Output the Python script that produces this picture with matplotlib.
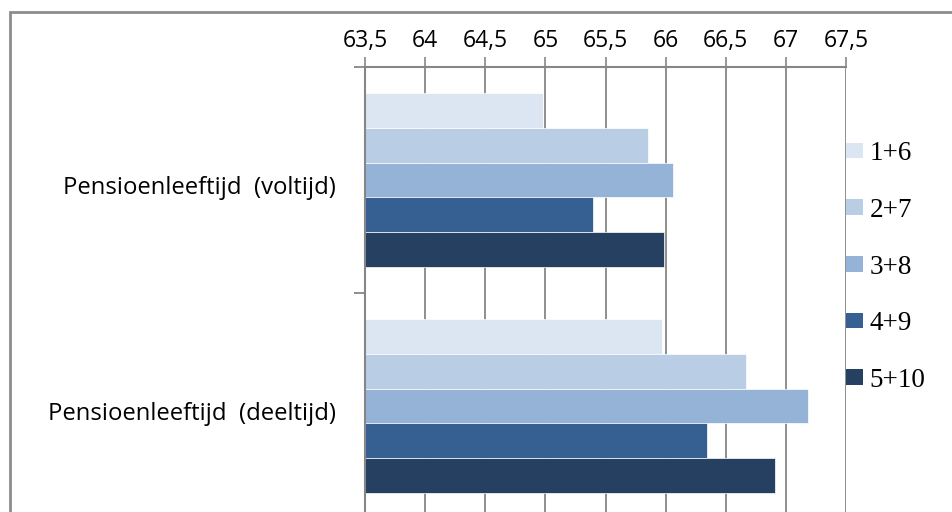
# horizontal bar chart of the retirement age per group, full-time vs part-time.
import matplotlib.pyplot as plt
import numpy as np
from matplotlib.patches import Patch, Rectangle
from matplotlib.ticker import FuncFormatter
from matplotlib.transforms import ScaledTranslation


categories: list = ['Pensioenleeftijd  (voltijd)', 'Pensioenleeftijd  (deeltijd)']
groups: list = ['1+6', '2+7', '3+8', '4+9', '5+10']
colors: list = ['#DCE6F2', '#B9CDE5', '#95B3D7', '#376092', '#254061']

# one row per group: [voltijd, deeltijd]
values: np.ndarray = np.array([
    [64.98, 65.97],
    [65.85, 66.67],
    [66.06, 67.18],
    [65.40, 66.34],
    [65.99, 66.91],
])

x_ticks: np.ndarray = np.arange(63.5, 67.51, 0.5)
x_min: float = 63.5
x_max: float = 67.5


def comma_label(value, position):
    text: str = f'{value:g}'
    return text.replace('.', ',')


def draw_chart():
    width_px: int = 952
    height_px: int = 512
    fig = plt.figure(figsize = (width_px / 100, height_px / 100), dpi = 100)

    # plot area runs a bit past the bottom edge of the figure
    left: float = 365 / width_px
    right: float = 846 / width_px
    top: float = 1 - 67 / height_px
    bottom: float = -(519 - height_px) / height_px
    ax = fig.add_axes([left, bottom, right - left, top - bottom])

    bar_height: float = 0.154
    y_base: np.ndarray = np.arange(len(categories))
    for i in range(len(groups)):
        offset: float = (i - 2) * bar_height
        ax.barh(y = y_base + offset, width = values[i] - x_min, left = x_min,
                height = bar_height, color = colors[i], edgecolor = 'white',
                linewidth = 0.5, zorder = 2)

    ax.set_xlim(x_min, x_max)
    ax.set_ylim(len(categories) - 0.5, -0.5)

    # value axis on top, comma as decimal separator
    ax.xaxis.set_ticks_position('top')
    ax.set_xticks(x_ticks)
    ax.xaxis.set_major_formatter(FuncFormatter(comma_label))
    ax.tick_params(axis = 'x', direction = 'out', length = 7, width = 1.2,
                   color = '#868686', pad = 3, labelsize = 16.5, labelcolor = 'black')
    ax.grid(axis = 'x', color = '#868686', linewidth = 1.3, zorder = 1)

    # category boundaries as major ticks, names on minor ticks
    ax.set_yticks(np.arange(-0.5, len(categories), 1.0))
    ax.set_yticklabels([])
    ax.set_yticks(y_base, minor = True)
    ax.set_yticklabels(categories, minor = True)
    ax.tick_params(axis = 'y', which = 'major', direction = 'out', length = 8,
                   width = 1.3, color = '#868686')
    ax.tick_params(axis = 'y', which = 'minor', length = 0, pad = 21,
                   labelsize = 17.2, labelcolor = 'black')
    shift = ScaledTranslation(0, -5 / 100, fig.dpi_scale_trans)
    for label in ax.get_yticklabels(minor = True):
        label.set_transform(label.get_transform() + shift)

    for side in ['right', 'bottom']:
        ax.spines[side].set_visible(False)
    ax.spines['left'].set_color('#868686')
    ax.spines['left'].set_linewidth(1.5)
    ax.spines['top'].set_color('#868686')
    ax.spines['top'].set_linewidth(1.5)

    handles: list = [Patch(facecolor = c, edgecolor = 'none') for c in colors]
    fig.legend(handles = handles, labels = groups, loc = 'center left',
               bbox_to_anchor = (846 / width_px, 1 - 267 / height_px),
               bbox_transform = fig.transFigure, frameon = False,
               prop = {'family': 'Liberation Serif', 'size': 19.5},
               handlelength = 0.62, handleheight = 0.52, handletextpad = 0.25,
               labelspacing = 1.17, borderpad = 0, borderaxespad = 0)

    # outer chart frame
    frame = Rectangle((10 / width_px, -0.1), 1.0, 1 - 12 / height_px + 0.1,
                      transform = fig.transFigure, fill = False,
                      edgecolor = '#8c8c8c', linewidth = 2)
    fig.patches.append(frame)

    fig.savefig('out.png', dpi = 100)


plt.rcParams['font.family'] = ['Open Sans', 'DejaVu Sans']
draw_chart()
